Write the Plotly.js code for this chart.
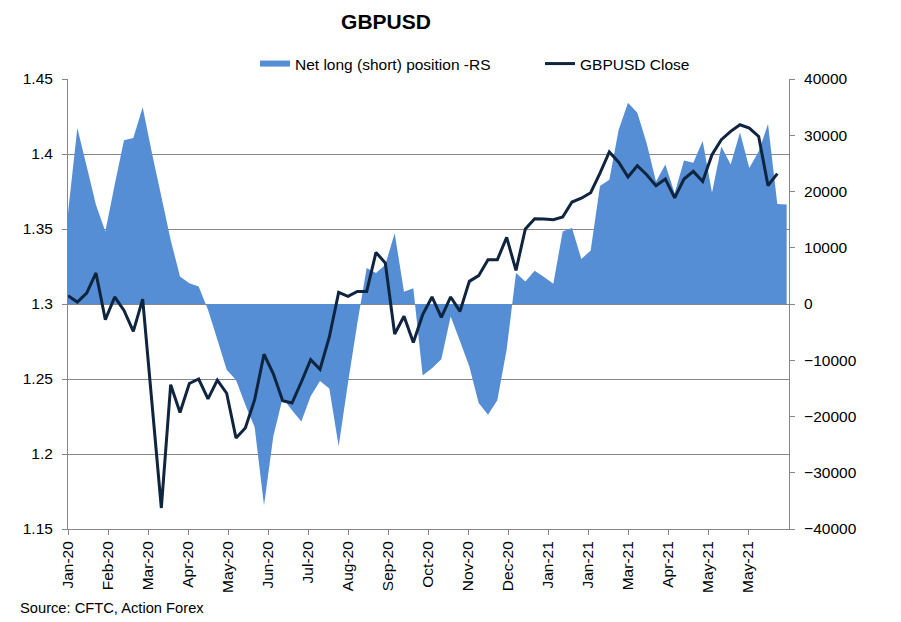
<!DOCTYPE html>
<html>
<head>
<meta charset="utf-8">
<script src="https://cdn.plot.ly/plotly-3.0.1.min.js"></script>
<style>
  html, body { margin: 0; padding: 0; background: #ffffff; }
  #chart { width: 901px; height: 622px; }
</style>
</head>
<body>
<div id="chart"></div>
<script>
// Weekly report dates (Tuesdays)
const weeks = [
  '2020-01-07','2020-01-14','2020-01-21','2020-01-28',
  '2020-02-04','2020-02-11','2020-02-18','2020-02-25',
  '2020-03-03','2020-03-10','2020-03-17','2020-03-24','2020-03-31',
  '2020-04-07','2020-04-14','2020-04-21','2020-04-28',
  '2020-05-05','2020-05-12','2020-05-19','2020-05-26',
  '2020-06-02','2020-06-09','2020-06-16','2020-06-23','2020-06-30',
  '2020-07-07','2020-07-14','2020-07-21','2020-07-28',
  '2020-08-04','2020-08-11','2020-08-18','2020-08-25',
  '2020-09-01','2020-09-08','2020-09-15','2020-09-22','2020-09-29',
  '2020-10-06','2020-10-13','2020-10-20','2020-10-27',
  '2020-11-03','2020-11-10','2020-11-17','2020-11-24',
  '2020-12-01','2020-12-08','2020-12-15','2020-12-22','2020-12-29',
  '2021-01-05','2021-01-12','2021-01-19','2021-01-26',
  '2021-02-02','2021-02-09','2021-02-16','2021-02-23',
  '2021-03-02','2021-03-09','2021-03-16','2021-03-23','2021-03-30',
  '2021-04-06','2021-04-13','2021-04-20','2021-04-27',
  '2021-05-04','2021-05-11','2021-05-18','2021-05-25',
  '2021-06-01','2021-06-08','2021-06-15','2021-06-22','2021-06-29'
];

// Net long (short) position, contracts (right scale)
const netPosition = [
  16200, 31300, 24500, 17600,
  12900, 21200, 29100, 29500,
  35000, 26800, 19100, 11400, 4900,
  3700, 3100, -1000, -6300,
  -11700, -13500, -17900, -21900,
  -35800, -23500, -16700, -18900, -20900,
  -16400, -13700, -15000, -25300,
  -14000, -3400, 6400, 5500,
  7000, 12600, 2200, 2800, -12700,
  -11400, -9800, -2200, -6600,
  -11100, -17600, -19700, -17100,
  -8100, 5500, 4000, 5900, 4800,
  3600, 12900, 13500, 8000,
  9500, 21000, 22100, 31000,
  35800, 34000, 28600, 21800, 24800,
  19700, 25500, 25100, 29000,
  19800, 28000, 24800, 30500,
  24200, 27100, 32000, 17800, 17700
];

// GBPUSD close (left scale)
const gbpusdClose = [
  1.3055, 1.3013, 1.3073, 1.3207,
  1.2895, 1.3047, 1.2957, 1.2817,
  1.3033, 1.2340, 1.1640, 1.2462, 1.2277,
  1.2470, 1.2500, 1.2367, 1.2493,
  1.2405, 1.2107, 1.2173, 1.2362,
  1.2665, 1.2535, 1.2355, 1.2340, 1.2480,
  1.2629, 1.2565, 1.2780, 1.3077,
  1.3051, 1.3084, 1.3084, 1.3344,
  1.3273, 1.2800, 1.2918, 1.2744, 1.2929,
  1.3047, 1.2911, 1.3047, 1.2951,
  1.3151, 1.3189, 1.3295, 1.3295,
  1.3444, 1.3224, 1.3500, 1.3568, 1.3567,
  1.3562, 1.3580, 1.3680, 1.3705,
  1.3742, 1.3872, 1.4014, 1.3945,
  1.3847, 1.3922, 1.3862, 1.3789, 1.3833,
  1.3707, 1.3833, 1.3884, 1.3817,
  1.3995, 1.4095, 1.4151, 1.4195,
  1.4173, 1.4117, 1.3789, 1.3869, null
];

// X tick labels (every 30 days from the first week)
const xTickLabels = ['Jan-20','Feb-20','Mar-20','Apr-20','May-20','Jun-20','Jul-20','Aug-20','Sep-20',
  'Oct-20','Nov-20','Dec-20','Jan-21','Jan-21','Mar-21','Apr-21','May-21','May-21'];

const seriesNames = ['Net long (short) position -RS', 'GBPUSD Close'];
const chartTitle = 'GBPUSD';
const sourceNote = 'Source: CFTC, Action Forex';

const FONT = 'Liberation Sans, Arial, sans-serif';
const GRAY = '#868686';

const dayMs = 86400000;
const t0 = Date.UTC(2020, 0, 7);
const tickVals = xTickLabels.map((_, k) => new Date(t0 + k * 30 * dayMs).toISOString().slice(0, 10));

const traces = [
  {
    x: weeks, y: netPosition, name: seriesNames[0],
    type: 'scatter', mode: 'none', fill: 'tozeroy',
    fillcolor: '#558ED5', yaxis: 'y', legend: 'legend',
    hoverinfo: 'skip'
  },
  {
    x: weeks, y: gbpusdClose, name: seriesNames[1],
    type: 'scatter', mode: 'lines',
    line: { color: '#0F243E', width: 3 },
    yaxis: 'y2', legend: 'legend2', connectgaps: false,
    hoverinfo: 'skip'
  }
];

const layout = {
  width: 901, height: 622,
  margin: { l: 68, r: 112, t: 79, b: 93, pad: 0, autoexpand: false },
  paper_bgcolor: '#ffffff', plot_bgcolor: '#ffffff',
  font: { family: FONT, size: 15.5, color: '#000000' },
  showlegend: true,
  title: {
    text: chartTitle,
    font: { family: FONT, size: 21, color: '#000000', weight: 'bold' },
    xref: 'container', yref: 'container',
    x: 386 / 901, xanchor: 'center',
    y: 1 - 22 / 622, yanchor: 'middle'
  },
  xaxis: {
    type: 'date',
    range: ['2020-01-07', '2021-06-30 18:00'],
    tickmode: 'array', tickvals: tickVals, ticktext: xTickLabels,
    tickangle: -90,
    ticks: 'outside', ticklen: 5, tickcolor: GRAY, tickwidth: 1,
    showline: true, linecolor: GRAY, linewidth: 1,
    showgrid: false, zeroline: false,
    tickfont: { family: FONT, size: 15.5, color: '#000000' },
    fixedrange: true
  },
  yaxis: {
    side: 'right',
    range: [-40000, 40000], dtick: 10000, tick0: 0,
    tickformat: 'd',
    ticks: 'outside', ticklen: 5, tickcolor: GRAY,
    showline: true, linecolor: GRAY, linewidth: 1,
    showgrid: false, zeroline: false,
    ticklabelstandoff: 6,
    tickfont: { family: FONT, size: 15.5, color: '#000000' },
    fixedrange: true
  },
  yaxis2: {
    overlaying: 'y', side: 'left',
    range: [1.15, 1.45], dtick: 0.05, tick0: 1.15,
    ticks: 'outside', ticklen: 5, tickcolor: GRAY,
    showline: true, linecolor: GRAY, linewidth: 1,
    showgrid: true, gridcolor: GRAY, gridwidth: 1,
    zeroline: false,
    ticklabelstandoff: 6,
    tickfont: { family: FONT, size: 15.5, color: '#000000' },
    fixedrange: true
  },
  legend: {
    xref: 'container', yref: 'container',
    x: 255 / 901, xanchor: 'left',
    y: 1 - 47 / 622, yanchor: 'top',
    orientation: 'h', bgcolor: 'rgba(0,0,0,0)', borderwidth: 0,
    font: { family: FONT, size: 15.5, color: '#000000' }
  },
  legend2: {
    xref: 'container', yref: 'container',
    x: 540 / 901, xanchor: 'left',
    y: 1 - 47 / 622, yanchor: 'top',
    orientation: 'h', bgcolor: 'rgba(0,0,0,0)', borderwidth: 0,
    font: { family: FONT, size: 15.5, color: '#000000' }
  },
  annotations: [{
    text: sourceNote, showarrow: false,
    xref: 'paper', yref: 'paper',
    x: (18 - 68) / 721, xanchor: 'left',
    y: (529 - 608) / 450, yanchor: 'middle',
    font: { family: FONT, size: 14.7, color: '#000000' }
  }]
};

Plotly.newPlot('chart', traces, layout, { displayModeBar: false, staticPlot: true });
</script>
</body>
</html>
